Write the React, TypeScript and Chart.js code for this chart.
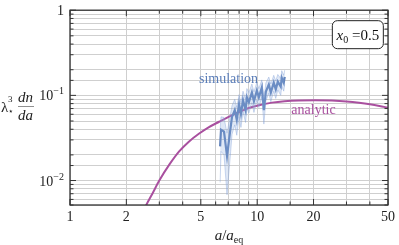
import React, { useEffect, useRef } from "react";
import { Chart, registerables } from "chart.js";

Chart.register(...registerables);

// ---- data ----
const analyticA = [2.45, 2.56, 2.75, 3.0, 3.4, 3.84, 4.3, 4.9, 5.5, 6.26, 7.0, 8.0, 9.0, 10.2, 12, 14, 16.7, 20.5, 25, 30, 35, 40, 45, 50];
const analyticV = [0.00427, 0.0052, 0.00695, 0.01, 0.01545, 0.0221, 0.0284, 0.0356, 0.0421, 0.049, 0.0556, 0.0638, 0.071, 0.0767, 0.0822, 0.0855, 0.0873, 0.0877, 0.0868, 0.0848, 0.082, 0.0788, 0.0752, 0.0715];

const simA = [6.34, 6.41, 6.65, 6.9, 7.22, 7.34, 7.59, 7.78, 8.0, 8.19, 8.4, 8.67, 8.81, 9.03, 9.37, 9.61, 9.96, 10.21, 10.59, 10.86, 11.13, 11.54, 11.83, 12.26, 12.57, 12.89, 13.36, 13.53, 13.87, 14.03];
const simV = [0.0252, 0.0396, 0.0376, 0.0194, 0.0428, 0.0558, 0.0672, 0.0516, 0.0788, 0.0605, 0.0877, 0.0672, 0.0948, 0.0831, 0.108, 0.0853, 0.114, 0.0948, 0.1236, 0.0672, 0.111, 0.134, 0.108, 0.141, 0.1176, 0.145, 0.127, 0.161, 0.141, 0.165];
const simLo = [0.0095, 0.022, 0.02, 0.0068, 0.022, 0.035, 0.045, 0.034, 0.056, 0.042, 0.064, 0.048, 0.07, 0.062, 0.082, 0.063, 0.088, 0.072, 0.096, 0.046, 0.086, 0.106, 0.084, 0.112, 0.092, 0.116, 0.1, 0.128, 0.112, 0.134];
const simHi = [0.04, 0.056, 0.055, 0.036, 0.062, 0.076, 0.09, 0.072, 0.102, 0.082, 0.112, 0.09, 0.12, 0.108, 0.136, 0.11, 0.142, 0.12, 0.152, 0.09, 0.14, 0.164, 0.136, 0.172, 0.148, 0.176, 0.158, 0.195, 0.172, 0.198];

const xLabelValues = [1, 2, 5, 10, 20, 50];
const yLabelValues = [1, 0.1, 0.01];
const yLabelExps = [0, -1, -2];
const xMin = 1;
const xMax = 50;
const yMin = 0.00516;
const yMax = 1;

const SERIF = '"Liberation Serif", "DejaVu Serif", serif';
const BLUE = "#5a7db8";
const MAGENTA = "#a9509f";

const decorPlugin = {
  id: "decor",
  afterDraw(chart: any) {
    const ctx = chart.ctx;
    const xs = chart.scales.x;
    const ys = chart.scales.y;
    const { left, right, top, bottom } = chart.chartArea;
    ctx.save();
    // frame
    ctx.strokeStyle = "#333";
    ctx.lineWidth = 1.3;
    ctx.strokeRect(left, top, right - left, bottom - top);
    // ticks
    ctx.lineWidth = 1;
    ctx.beginPath();
    xs.ticks.forEach((t: any) => {
      const p = xs.getPixelForValue(t.value);
      const len = xLabelValues.includes(t.value) ? 6 : 3.5;
      ctx.moveTo(p, bottom);
      ctx.lineTo(p, bottom - len);
      ctx.moveTo(p, top);
      ctx.lineTo(p, top + len);
    });
    ys.ticks.forEach((t: any) => {
      const p = ys.getPixelForValue(t.value);
      const lg = Math.log10(t.value);
      const len = Math.abs(lg - Math.round(lg)) < 1e-6 ? 6 : 3.5;
      ctx.moveTo(left, p);
      ctx.lineTo(left + len, p);
      ctx.moveTo(right, p);
      ctx.lineTo(right - len, p);
    });
    ctx.stroke();

    // y tick labels
    ctx.fillStyle = "#222";
    ctx.textBaseline = "alphabetic";
    yLabelValues.forEach((v, i) => {
      const p = ys.getPixelForValue(v);
      const rx = left - 6;
      if (yLabelExps[i] === 0) {
        ctx.font = `14px ${SERIF}`;
        ctx.textAlign = "right";
        ctx.fillText("1", rx, p + 5);
      } else {
        const sup = "\u2212" + String(-yLabelExps[i]);
        ctx.font = `10px ${SERIF}`;
        const sw = ctx.measureText(sup).width;
        ctx.textAlign = "left";
        ctx.fillText(sup, rx - sw, p - 1);
        ctx.font = `14px ${SERIF}`;
        ctx.textAlign = "right";
        ctx.fillText("10", rx - sw, p + 5);
      }
    });

    // x axis title a/a_eq
    const cx = (left + right) / 2;
    const by = 240;
    ctx.textAlign = "left";
    const parts: [string, string][] = [
      ["a", `italic 15px ${SERIF}`],
      ["/", `15px ${SERIF}`],
      ["a", `italic 15px ${SERIF}`],
    ];
    let tw = 0;
    parts.forEach(([s, f]) => { ctx.font = f; tw += ctx.measureText(s).width; });
    ctx.font = `10px ${SERIF}`;
    tw += ctx.measureText("eq").width;
    let xx = cx - tw / 2;
    parts.forEach(([s, f]) => { ctx.font = f; ctx.fillText(s, xx, by); xx += ctx.measureText(s).width; });
    ctx.font = `10px ${SERIF}`;
    ctx.fillText("eq", xx, by + 3);

    // y axis title
    ctx.font = `15px ${SERIF}`;
    ctx.fillText("\u03bb", 1, 111.5);
    ctx.font = `9px ${SERIF}`;
    ctx.fillText("3", 8, 102);
    ctx.fillText("\u22c6", 7.5, 114);
    ctx.font = `italic 15px ${SERIF}`;
    ctx.textAlign = "center";
    ctx.fillText("dn", 25.5, 102);
    ctx.fillText("da", 25.5, 120);
    ctx.strokeStyle = "#444";
    ctx.lineWidth = 0.6;
    ctx.beginPath();
    ctx.moveTo(18, 106.5);
    ctx.lineTo(34, 106.5);
    ctx.stroke();

    // series labels
    ctx.textAlign = "center";
    ctx.textBaseline = "middle";
    ctx.font = `14px ${SERIF}`;
    ctx.fillStyle = BLUE;
    ctx.fillText("simulation", xs.getPixelForValue(7.03), ys.getPixelForValue(0.153));
    ctx.fillStyle = MAGENTA;
    ctx.fillText("analytic", xs.getPixelForValue(20.0), ys.getPixelForValue(0.0673));

    // x0 box
    const bx = xs.getPixelForValue(34.5);
    const bY = ys.getPixelForValue(0.516);
    const bw = 51, bh = 28, r = 5;
    ctx.fillStyle = "#fff";
    ctx.strokeStyle = "#222";
    ctx.lineWidth = 1;
    ctx.beginPath();
    ctx.roundRect(bx - bw / 2, bY - bh / 2, bw, bh, r);
    ctx.fill();
    ctx.stroke();
    ctx.fillStyle = "#111";
    ctx.textAlign = "left";
    ctx.textBaseline = "alphabetic";
    ctx.font = `italic 15px ${SERIF}`;
    const w1 = ctx.measureText("x").width;
    ctx.font = `10px ${SERIF}`;
    const w2 = ctx.measureText("0").width;
    ctx.font = `15px ${SERIF}`;
    const w3 = ctx.measureText(" =0.5").width;
    let sx = bx - (w1 + w2 + w3) / 2;
    const base = bY + 5;
    ctx.font = `italic 15px ${SERIF}`;
    ctx.fillText("x", sx, base);
    sx += w1;
    ctx.font = `10px ${SERIF}`;
    ctx.fillText("0", sx, base + 3);
    sx += w2;
    ctx.font = `15px ${SERIF}`;
    ctx.fillText(" =0.5", sx, base);
    ctx.restore();
  },
};

export default function App() {
  const ref = useRef<HTMLCanvasElement>(null);
  useEffect(() => {
    if (!ref.current) return;
    const chart = new Chart(ref.current, {
      type: "line",
      data: {
        datasets: [
          {
            label: "lo",
            data: simA.map((a, i) => ({ x: a, y: simLo[i] })),
            borderColor: "rgba(130,160,215,0.5)",
            borderWidth: 0.8,
            pointRadius: 0,
            fill: false,
            tension: 0,
          },
          {
            label: "hi",
            data: simA.map((a, i) => ({ x: a, y: simHi[i] })),
            borderColor: "rgba(130,160,215,0.5)",
            borderWidth: 0.8,
            backgroundColor: "rgba(150,178,225,0.3)",
            pointRadius: 0,
            fill: "-1",
            tension: 0,
          },
          {
            label: "simulation",
            data: simA.map((a, i) => ({ x: a, y: simV[i] })),
            borderColor: BLUE,
            borderWidth: 2.2,
            pointRadius: 0,
            fill: false,
            tension: 0,
          },
          {
            label: "analytic",
            data: analyticA.map((a, i) => ({ x: a, y: analyticV[i] })),
            borderColor: MAGENTA,
            borderWidth: 2,
            pointRadius: 0,
            fill: false,
            cubicInterpolationMode: "monotone",
          },
        ],
      },
      options: {
        animation: false,
        responsive: false,
        maintainAspectRatio: false,
        layout: { padding: { top: 6, right: 9, left: 0, bottom: 0 } },
        plugins: { legend: { display: false }, tooltip: { enabled: false } },
        scales: {
          x: {
            type: "logarithmic",
            min: xMin,
            max: xMax,
            grid: { color: "#cfcfcf", lineWidth: 1, drawTicks: false },
            border: { display: false },
            ticks: {
              autoSkip: false,
              maxRotation: 0,
              padding: 4,
              color: "#222",
              font: { family: SERIF, size: 14 },
              callback: (v: any) => (xLabelValues.includes(Number(v)) ? String(v) : ""),
            },
            afterFit: (s: any) => { s.height = 40; },
          },
          y: {
            type: "logarithmic",
            min: yMin,
            max: yMax,
            grid: { color: "#cfcfcf", lineWidth: 1, drawTicks: false },
            border: { display: false },
            ticks: { autoSkip: false, callback: () => "" },
            afterFit: (s: any) => { s.width = 70; },
          },
        },
      },
      plugins: [decorPlugin],
    });
    return () => chart.destroy();
  }, []);
  return (
    <div style={{ position: "fixed", left: 0, top: 0, width: 399, height: 245, background: "#fff" }}>
      <canvas ref={ref} width={399} height={245} />
    </div>
  );
}
